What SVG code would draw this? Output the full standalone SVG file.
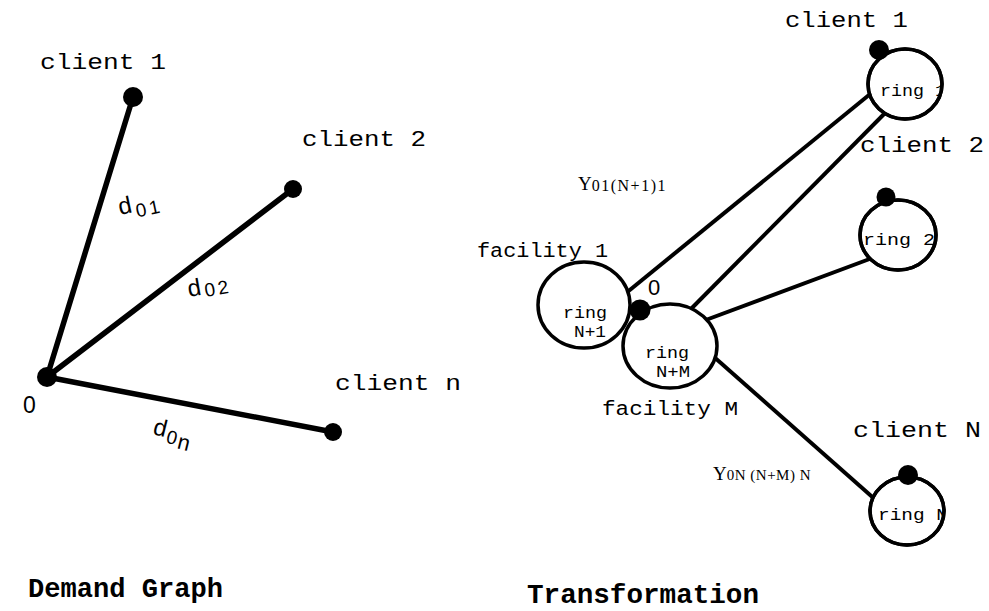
<svg xmlns="http://www.w3.org/2000/svg" width="989" height="611" viewBox="0 0 989 611">
  <style>
    .bg { fill: #ffffff; }
    .mono { font-family: "Liberation Mono", "Courier New", monospace; fill: #000; }
    .lbl { font-size: 22px; }
    .ring-txt { font-size: 16px; }
    .title { font-size: 27px; font-weight: bold; }
    .sans { font-family: "Liberation Sans", Arial, sans-serif; fill: #000; }
    .serif { font-family: "Liberation Serif", "Times New Roman", serif; fill: #000; }
    .edge-l { stroke: #000; stroke-width: 5.5; stroke-linecap: round; fill: none; }
    .edge-r { stroke: #000; stroke-width: 4; stroke-linecap: butt; fill: none; }
    .ring { fill: #fff; stroke: #000; stroke-width: 3.5; }
    .dot { fill: #000; }
  </style>
  <defs>
    <clipPath id="clip-ring1"><ellipse cx="905" cy="84" rx="37" ry="35"/></clipPath>
    <clipPath id="clip-ring2"><ellipse cx="898" cy="235" rx="38" ry="35"/></clipPath>
    <clipPath id="clip-ringN"><ellipse cx="907" cy="511" rx="37" ry="34"/></clipPath>
  </defs>

  <rect class="bg" x="0" y="0" width="989" height="611"/>

  <!-- Demand graph: connectors -->
  <g id="demand-edges">
    <line class="edge-l" x1="47" y1="377" x2="133" y2="97"/>
    <line class="edge-l" x1="47" y1="377" x2="293" y2="189"/>
    <line class="edge-l" x1="47" y1="377" x2="333" y2="432"/>
  </g>

  <!-- Demand graph: edge weights -->
  <g id="demand-weights" class="sans">
    <text transform="translate(120,215) rotate(-12)" font-size="24" letter-spacing="3">d<tspan font-size="19" dy="6">01</tspan></text>
    <text transform="translate(189,297) rotate(-10)" font-size="24" letter-spacing="3">d<tspan font-size="19" dy="3">02</tspan></text>
    <text transform="translate(152,434) rotate(14)" font-size="24" letter-spacing="1.5">d<tspan font-size="19" dy="5">0</tspan><tspan font-size="22" dy="3">n</tspan></text>
  </g>

  <!-- Demand graph: nodes -->
  <g id="demand-origin">
    <circle class="dot" cx="47" cy="377" r="10"/>
    <text class="sans" x="23" y="413" font-size="23">0</text>
  </g>
  <g id="demand-client1">
    <circle class="dot" cx="133" cy="97" r="10"/>
    <text class="mono lbl" x="40" y="69" textLength="126" lengthAdjust="spacingAndGlyphs">client 1</text>
  </g>
  <g id="demand-client2">
    <circle class="dot" cx="293" cy="189" r="9"/>
    <text class="mono lbl" x="302" y="146" textLength="124" lengthAdjust="spacingAndGlyphs">client 2</text>
  </g>
  <g id="demand-clientn">
    <circle class="dot" cx="333" cy="432" r="9"/>
    <text class="mono lbl" x="335" y="390" textLength="126" lengthAdjust="spacingAndGlyphs">client n</text>
  </g>

  <!-- Transformation: connectors -->
  <g id="transform-edges">
    <line class="edge-r" x1="620" y1="298" x2="880" y2="86"/>
    <line class="edge-r" x1="685" y1="315" x2="893" y2="105"/>
    <line class="edge-r" x1="695" y1="324" x2="875" y2="257"/>
    <line class="edge-r" x1="705" y1="349" x2="878" y2="502"/>
  </g>

  <!-- Transformation: edge variables -->
  <g id="transform-vars" class="serif">
    <text x="578" y="190" font-size="19">Y<tspan font-size="16" dy="1" letter-spacing="1.5">01(N+1)1</tspan></text>
    <text x="713" y="480" font-size="19">Y<tspan font-size="15" dy="0" letter-spacing="0.5">0N (N+M) N</tspan></text>
  </g>

  <!-- Transformation: facility rings -->
  <g id="facility-1">
    <ellipse class="ring" cx="584" cy="305" rx="46" ry="43"/>
    <text class="mono ring-txt" x="563" y="318" textLength="44" lengthAdjust="spacingAndGlyphs">ring</text>
    <text class="mono ring-txt" x="574" y="337" textLength="32" lengthAdjust="spacingAndGlyphs">N+1</text>
    <text class="mono" x="477" y="257" font-size="20" textLength="131" lengthAdjust="spacingAndGlyphs">facility 1</text>
  </g>
  <g id="facility-M">
    <ellipse class="ring" cx="670" cy="346" rx="47" ry="42"/>
    <text class="mono ring-txt" x="645" y="358" textLength="44" lengthAdjust="spacingAndGlyphs">ring</text>
    <text class="mono ring-txt" x="656" y="377" textLength="34" lengthAdjust="spacingAndGlyphs">N+M</text>
    <text class="mono" x="602" y="415" font-size="20" textLength="136" lengthAdjust="spacingAndGlyphs">facility M</text>
  </g>
  <g id="hub-0">
    <circle class="dot" cx="640" cy="310" r="10.5"/>
    <text class="sans" x="648" y="295" font-size="22">0</text>
  </g>

  <!-- Transformation: client rings -->
  <g id="client-1">
    <ellipse class="ring" cx="905" cy="84" rx="37" ry="35"/>
    <text class="mono ring-txt" x="880" y="96" clip-path="url(#clip-ring1)" textLength="66" lengthAdjust="spacingAndGlyphs">ring 1</text>
    <ellipse cx="905" cy="84" rx="37" ry="35" fill="none" stroke="#000" stroke-width="3.5"/>
    <circle class="dot" cx="879" cy="50" r="10"/>
    <text class="mono lbl" x="785" y="27" textLength="123" lengthAdjust="spacingAndGlyphs">client 1</text>
  </g>
  <g id="client-2">
    <ellipse class="ring" cx="898" cy="235" rx="38" ry="35"/>
    <text class="mono ring-txt" x="863" y="245" clip-path="url(#clip-ring2)" textLength="72" lengthAdjust="spacingAndGlyphs">ring 2</text>
    <ellipse cx="898" cy="235" rx="38" ry="35" fill="none" stroke="#000" stroke-width="3.5"/>
    <circle class="dot" cx="886" cy="197" r="9.5"/>
    <text class="mono lbl" x="860" y="152" textLength="124" lengthAdjust="spacingAndGlyphs">client 2</text>
  </g>
  <g id="client-N">
    <ellipse class="ring" cx="907" cy="511" rx="37" ry="34"/>
    <text class="mono ring-txt" x="878" y="520" clip-path="url(#clip-ringN)" textLength="70" lengthAdjust="spacingAndGlyphs">ring N</text>
    <ellipse cx="907" cy="511" rx="37" ry="34" fill="none" stroke="#000" stroke-width="3.5"/>
    <circle class="dot" cx="908" cy="475" r="10"/>
    <text class="mono lbl" x="853" y="437" textLength="128" lengthAdjust="spacingAndGlyphs">client N</text>
  </g>

  <!-- Captions -->
  <g id="captions">
    <text class="mono title" x="28" y="597" textLength="195" lengthAdjust="spacingAndGlyphs">Demand Graph</text>
    <text class="mono title" x="527" y="603" textLength="232" lengthAdjust="spacingAndGlyphs">Transformation</text>
  </g>
</svg>
